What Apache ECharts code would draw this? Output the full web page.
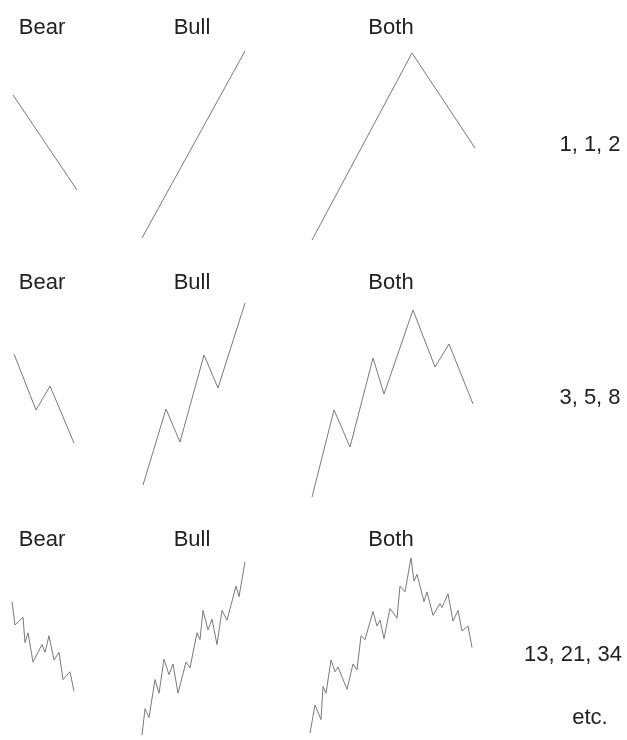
<!DOCTYPE html>
<html>
<head>
<meta charset="utf-8">
<script src="https://cdn.jsdelivr.net/npm/echarts@6/dist/echarts.min.js"></script>
<style>
  html, body { margin: 0; padding: 0; background: #fff; }
  #chart { width: 627px; height: 740px; }
</style>
</head>
<body>
<div id="chart"></div>
<script>
// column and row titles
const columns = ['Bear', 'Bull', 'Both']
const rowLabels = ['1, 1, 2', '3, 5, 8', '13, 21, 34']
const footLabel = 'etc.'

// wave paths as [time, price]
// row 1: 1, 1, 2
const bear1 = [[5, 155], [69, 60]]
const bull1 = [[4, 12], [107, 199]]
const both1 = [[6, 10], [106, 197], [169, 102]]

// row 2: 3, 5, 8
const bear2 = [[6, 156], [28, 100], [42, 124], [66, 67]]
const bull2 = [[5, 25], [28, 101], [42, 68], [66, 155], [80, 122], [107, 207]]
const both2 = [[6, 13], [28, 100], [44, 63], [67, 152], [78, 116], [107, 200], [129, 143], [143, 166], [167, 106]]

// row 3: 13, 21, 34
const bear3 = [[4, 142], [7, 118], [15, 126], [17, 100], [20, 110], [25, 80], [34, 98], [37, 90], [41, 107],
  [46, 82], [51, 90], [55, 62], [62, 70], [66, 50]]
const bull3 = [[4, 5], [7, 32], [11, 23], [17, 62], [21, 48], [26, 83], [31, 67], [35, 78], [40, 48], [48, 80],
  [52, 74], [59, 110], [62, 103], [65, 133], [70, 113], [74, 124], [79, 98], [84, 133], [89, 123], [98, 158],
  [101, 147], [107, 183]]
const both3 = [[4, 7], [9, 36], [15, 21], [17, 55], [20, 48], [25, 82], [29, 70], [32, 75], [41, 52], [47, 78],
  [51, 72], [55, 107], [59, 103], [67, 132], [71, 117], [74, 123], [78, 104], [84, 135], [91, 125], [94, 158],
  [99, 152], [105, 187], [108, 163], [111, 170], [118, 142], [121, 152], [127, 128], [134, 140], [136, 136],
  [142, 150], [147, 122], [152, 133], [156, 112], [162, 117], [166, 95]]

const waves = [[bear1, bull1, both1], [bear2, bull2, both2], [bear3, bull3, both3]]

// panel layout (pixels)
const colLeft = [8, 138, 306]
const colWidth = [72, 110, 172]
const rowTop = [40, 290, 550]
const rowHeight = [210, 220, 195]
const titleY = [28, 283, 540]
const titleX = [42, 192, 391]
const sideY = [145, 398, 655]
const sideX = [590, 590, 573]

const lineColor = '#7b7b7b'
const textColor = '#222'
const font = '22px "Liberation Sans", Arial, sans-serif'

const grid = []
const xAxis = []
const yAxis = []
const series = []
const graphic = []

const textStyle = (text) => ({
  text, font, fill: textColor,
  align: 'center', verticalAlign: 'middle', textAlign: 'center', textVerticalAlign: 'middle'
})

waves.forEach((row, r) => {
  row.forEach((data, c) => {
    const i = grid.length
    grid.push({ left: colLeft[c], top: rowTop[r], width: colWidth[c], height: rowHeight[r] })
    xAxis.push({ type: 'value', gridIndex: i, min: 0, max: colWidth[c], show: false })
    yAxis.push({ type: 'value', gridIndex: i, min: 0, max: rowHeight[r], show: false })
    series.push({
      type: 'line',
      xAxisIndex: i,
      yAxisIndex: i,
      data: data,
      showSymbol: false,
      silent: true,
      lineStyle: { color: lineColor, width: 1 }
    })
    graphic.push({ type: 'text', x: titleX[c], y: titleY[r], style: textStyle(columns[c]) })
  })
  graphic.push({ type: 'text', x: sideX[r], y: sideY[r], style: textStyle(rowLabels[r]) })
})

graphic.push({ type: 'text', x: 590, y: 718, style: textStyle(footLabel) })

const chart = echarts.init(document.getElementById('chart'))
chart.setOption({
  animation: false,
  backgroundColor: '#fff',
  grid,
  xAxis,
  yAxis,
  series,
  graphic
})
</script>
</body>
</html>
